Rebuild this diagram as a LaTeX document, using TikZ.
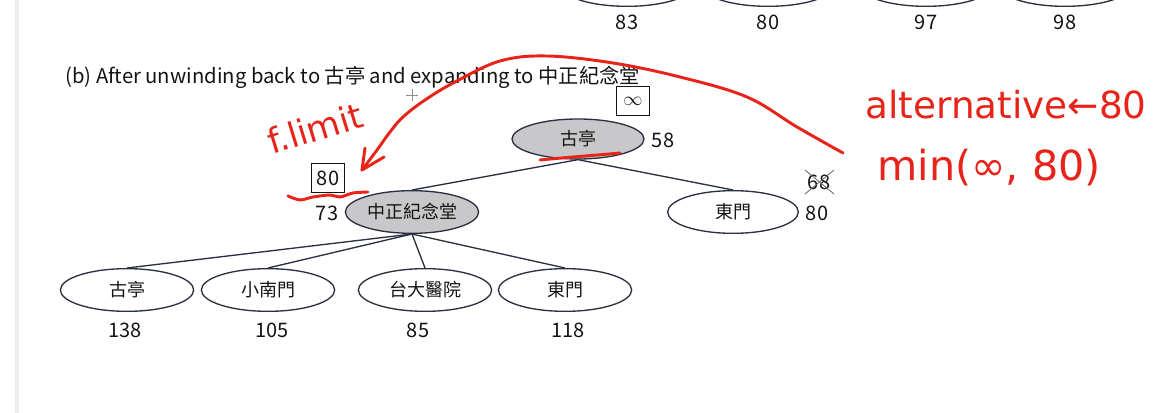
\documentclass[tikz,border=0pt]{standalone}
\usepackage{fontspec}
\setmainfont{Noto Sans CJK TC}
\newfontfamily\hand{DejaVu Sans}
\usetikzlibrary{shapes.geometric,arrows.meta}
\definecolor{edge}{HTML}{2A3042}
\definecolor{pen}{HTML}{E8231A}
\definecolor{nodefill}{HTML}{C8C8CA}
\definecolor{ink}{HTML}{141414}
\begin{document}
\begin{tikzpicture}[x=0.75pt,y=-0.75pt,
  st/.style={ellipse,draw=edge,line width=1pt,minimum width=100pt,minimum height=32pt,inner sep=0pt,text=ink,font=\fontsize{13.5}{13.5}\selectfont},
  stv/.style={st,fill=nodefill},
  num/.style={inner sep=0pt,text=ink,font=\fontsize{15}{15}\selectfont},
  limbox/.style={draw=ink,line width=0.8pt,minimum width=24.5pt,minimum height=21.5pt,inner sep=0pt,text=ink,font=\fontsize{15}{15}\selectfont},
  link/.style={draw=edge,line width=1pt},
  penline/.style={draw=pen,line width=2.2pt,line cap=round,line join=round},
  handtext/.style={text=pen,inner sep=0pt}
]
\useasboundingbox (0,0) rectangle (1163,413);
\fill[white] (0,0) rectangle (1163,413);
\draw[black!7,line width=3pt] (17,0) -- (17,413);

% partial row at the top
\begin{scope}
\clip (0,0) rectangle (1163,413);
\node[st] (top1) at (627,-15) {};
\node[st] (top2) at (768,-15) {};
\node[st] (top3) at (926,-15) {};
\node[st] (top4) at (1065,-15) {};
\end{scope}
\node[num] (topv1) at (627,22) {83};
\node[num] (topv2) at (768,22) {80};
\node[num] (topv3) at (926,22) {97};
\node[num] (topv4) at (1065,22) {98};

% title
\node[anchor=west,inner sep=0pt,text=ink,font=\fontsize{15.2}{15.2}\selectfont] (title) at (65,77)
  {(b) After unwinding back to 古亭 and expanding to 中正紀念堂};

% tree
\node[stv,minimum width=99pt,minimum height=30pt] (root) at (578,139) {古亭};
\node[num] (rootv) at (663,140) {58};
\node[limbox] (rootlim) at (633,101) {$\infty$};

\node[stv] (zz) at (412,212) {中正紀念堂};
\node[num] (zzv) at (327,213) {73};
\node[limbox] (zzlim) at (328,178) {80};

\node[st,minimum width=98pt] (dm) at (733,212) {東門};
\node[num] (dmv) at (817,213) {80};
\node[num] (dmold) at (819,182) {68};
\draw[black!60,line width=0.6pt] (805,194) -- (834,170);
\draw[black!60,line width=0.6pt] (805,170) -- (834,194);

\node[st] (c1) at (127,290) {古亭};
\node[st] (c2) at (268,290) {小南門};
\node[st] (c3) at (425,290) {台大醫院};
\node[st] (c4) at (565,290) {東門};
\node[num] (c1v) at (125,330) {138};
\node[num] (c2v) at (272,330) {105};
\node[num] (c3v) at (418,330) {85};
\node[num] (c4v) at (568,330) {118};

\draw[link] (root.south) -- (zz.north);
\draw[link] (root.south) -- (dm.north);
\foreach \c in {c1,c2,c3,c4} \draw[link] (zz.south) -- (\c.north);

% cursor
\draw[black!45,line width=0.5pt] (406,95) -- (418,95) (412,89) -- (412,101);

% red annotations
\draw[penline] (540,160) .. controls (570,157) and (600,155) .. (620,153);
\draw[penline] plot[smooth] coordinates {(288,196) (300,200) (313,197) (330,195) (340,197) (353,193) (368,192)};
\draw[penline] plot[smooth,tension=0.6] coordinates {(843,153) (797,127) (747,97) (680,77) (613,63) (547,56) (500,61) (455,82) (425,100) (403,117) (390,132) (377,150) (362,170)};
\coordinate (tip) at (362,170);
\draw[penline] (tip) -- (365,148);
\draw[penline] (tip) -- (384,157);

\node[handtext,rotate=17,font=\hand\fontsize{26}{26}\selectfont] (flimit) at (315,128) {f.limit};
\node[handtext,font=\hand\fontsize{28}{28}\selectfont] (alt) at (1006,105) {alternative←80};
\node[handtext,font=\hand\fontsize{31}{31}\selectfont] (minv) at (989,168) {min(∞, 80)};
\end{tikzpicture}
\end{document}
